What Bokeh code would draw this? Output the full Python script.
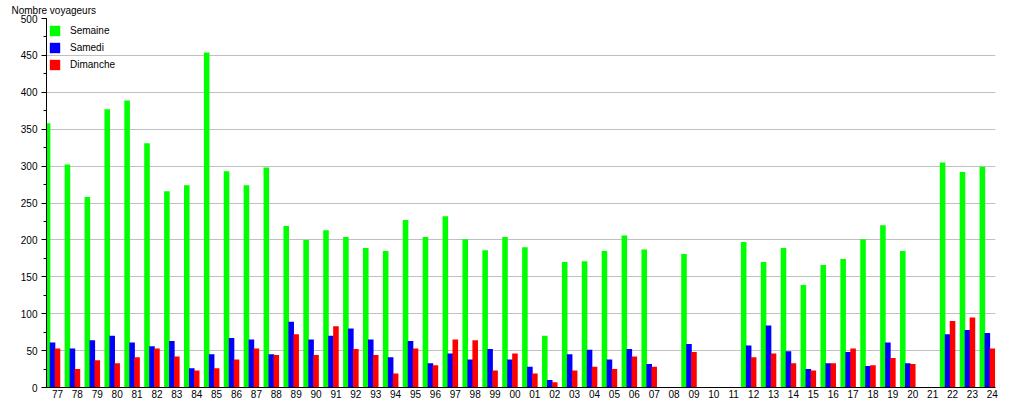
import numpy as np
from bokeh.plotting import figure
from bokeh.models import ColumnDataSource, FixedTicker, SingleIntervalTicker, Range1d, Title
from bokeh.embed import file_html
from bokeh.resources import INLINE

years = ["77", "78", "79", "80", "81", "82", "83", "84", "85", "86", "87", "88",
         "89", "90", "91", "92", "93", "94", "95", "96", "97", "98", "99", "00",
         "01", "02", "03", "04", "05", "06", "07", "08", "09", "10", "11", "12",
         "13", "14", "15", "16", "17", "18", "19", "20", "21", "22", "23", "24"]

semaine = [358, 302, 258, 377, 389, 331, 266, 274, 454, 293, 274, 298,
           219, 200, 213, 204, 189, 185, 227, 204, 232, 201, 186, 204,
           190, 70, 170, 171, 185, 206, 187, 0, 181, 0, 0, 197,
           170, 189, 139, 166, 174, 201, 220, 185, 0, 305, 292, 299]

samedi = [61, 53, 64, 70, 61, 56, 63, 26, 45, 67, 65, 45,
          89, 65, 70, 80, 65, 41, 63, 33, 46, 38, 52, 38,
          28, 10, 45, 51, 38, 52, 32, 0, 59, 0, 0, 57,
          84, 49, 25, 33, 48, 29, 61, 33, 0, 72, 78, 74]

dimanche = [53, 25, 37, 33, 41, 53, 42, 23, 26, 38, 53, 44,
            72, 44, 83, 52, 44, 19, 53, 30, 65, 64, 23, 46,
            19, 7, 23, 28, 25, 42, 28, 0, 48, 0, 0, 41,
            46, 33, 23, 33, 53, 30, 40, 32, 0, 90, 95, 53]

series_names = ["Semaine", "Samedi", "Dimanche"]
series_colors = ["#00ff00", "#0000ff", "#ff0000"]

FONT = "Liberation Sans"

idx = np.arange(len(years))
src = ColumnDataSource(dict(
    xg=idx - 0.5, xb=idx - 0.25, xr=idx * 1.0,
    semaine=semaine, samedi=samedi, dimanche=dimanche,
))

p = figure(width=1015, height=400, output_backend="svg", toolbar_location=None,
           x_range=Range1d(-0.553, 47.16), y_range=Range1d(0, 500),
           min_border_left=46, min_border_right=20, min_border_top=18,
           min_border_bottom=13)
p.outline_line_color = None
p.background_fill_color = "white"
p.border_fill_color = "white"

bw = 0.28
for xcol, ycol, name, col in zip(["xg", "xb", "xr"], ["semaine", "samedi", "dimanche"],
                                 series_names, series_colors):
    p.vbar(x=xcol, top=ycol, width=bw, source=src, fill_color=col, line_color=None,
           legend_label=name)

# title
t = Title(text="Nombre voyageurs", align="left", offset=-35,
          text_font=FONT, text_font_size="10px", text_font_style="normal",
          text_color="#000000", standoff=5)
p.add_layout(t, "above")

# axes
p.xaxis.ticker = FixedTicker(ticks=list(idx))
p.xaxis.major_label_overrides = {int(i): y for i, y in zip(idx, years)}
p.xaxis.major_tick_out = 0
p.xaxis.major_tick_in = 0
p.xaxis.minor_tick_out = 0
p.xaxis.major_label_standoff = 2
p.xaxis.axis_line_color = "#000000"
p.xaxis.major_label_text_font = FONT
p.xaxis.major_label_text_font_size = "10px"
p.xaxis.major_label_text_color = "#000000"

p.yaxis.ticker = SingleIntervalTicker(interval=50, num_minor_ticks=2)
p.yaxis.major_tick_out = 5
p.yaxis.major_tick_in = 0
p.yaxis.minor_tick_out = 3
p.yaxis.minor_tick_in = 0
p.yaxis.major_label_standoff = 4
p.yaxis.axis_line_color = "#000000"
p.yaxis.major_tick_line_color = "#000000"
p.yaxis.minor_tick_line_color = "#000000"
p.yaxis.major_label_text_font = FONT
p.yaxis.major_label_text_font_size = "10px"
p.yaxis.major_label_text_color = "#000000"

p.xgrid.grid_line_color = None
p.ygrid.grid_line_color = "#c0c0c0"
p.ygrid.ticker = SingleIntervalTicker(interval=50)

lg = p.legend[0]
lg.location = (2, 316)
lg.margin = 0
lg.padding = 0
lg.spacing = 4
lg.glyph_width = 13
lg.glyph_height = 13
lg.label_height = 13
lg.label_standoff = 9
lg.label_text_font = FONT
lg.label_text_font_size = "10px"
lg.label_text_color = "#000000"
lg.background_fill_alpha = 0
lg.border_line_color = None

open("out.html", "w").write(file_html(p, INLINE))
